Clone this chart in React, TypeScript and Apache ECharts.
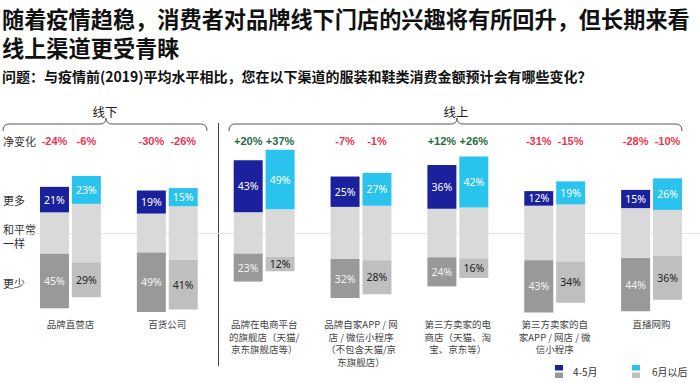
import React, { useEffect, useRef } from "react";
import * as echarts from "echarts";

// ---------- data ----------
const categories = [
  "品牌直营店",
  "百货公司",
  "品牌在电商平台\n的旗舰店（天猫/\n京东旗舰店等）",
  "品牌自家APP / 网\n店 / 微信小程序\n（不包含天猫/京\n东旗舰店）",
  "第三方卖家的电\n商店（天猫、淘\n宝、京东等）",
  "第三方卖家的自\n家APP / 网店 / 微\n信小程序",
  "直播网购",
];
const periods = ["4-5月", "6月以后"];
// 更多 / 和平常一样 / 更少 (%)
const moreA = [21, 19, 43, 25, 36, 12, 15];
const sameA = [34, 32, 34, 43, 40, 45, 41];
const lessA = [45, 49, 23, 32, 24, 43, 44];
const moreB = [23, 15, 49, 27, 42, 19, 26];
const sameB = [48, 44, 39, 45, 42, 47, 38];
const lessB = [29, 41, 12, 28, 16, 34, 36];
// 净变化 (%)
const netA = [-24, -30, 20, -7, 12, -31, -28];
const netB = [-6, -26, 37, -1, 26, -15, -10];
const rowLabels = ["净变化", "更多", "和平常\n一样", "更少"];
const groupLabels = ["线下", "线上"];

const TITLE_LINES = ["随着疫情趋稳，消费者对品牌线下门店的兴趣将有所回升，但长期来看", "线上渠道更受青睐"];
const SUBTITLE = "问题：与疫情前(2019)平均水平相比，您在以下渠道的服装和鞋类消费金额预计会有哪些变化？";

// ---------- style ----------
const NAVY = "#1b219c";
const CYAN = "#2ac3ee";
const MID = "#d9d9d9";
const DARK_GREY = "#999999";
const LIGHT_GREY = "#bfbfbf";
const RED = "#ea3550";
const GREEN = "#1f6a3b";
const BAR_W = 29;
const Y_MAX = 70;
const CJK = '"Noto Sans CJK SC", "Noto Sans", sans-serif';
const NUM = '"Noto Sans", "Noto Sans CJK SC", sans-serif';

const braceOff =
  "M3 131 Q3 124 9 124 L100 124 Q106 124 106 118 Q106 124 112 124 L201 124 Q207 124 207 131";
const braceOn =
  "M229 131 Q229 124 235 124 L451 124 Q457 124 457 118 Q457 124 463 124 L676 124 Q682 124 682 131";
echarts.graphic.registerShape("braceOff", echarts.graphic.extendPath(braceOff, {}) as any);
echarts.graphic.registerShape("braceOn", echarts.graphic.extendPath(braceOn, {}) as any);

const fmtNet = (v: number) => (v > 0 ? "+" + v + "%" : v + "%");

function barSeries(
  name: string,
  stack: string,
  data: number[],
  color: string,
  labelValues?: number[],
  labelColor?: string
) {
  return {
    type: "bar",
    name,
    stack,
    data,
    barWidth: BAR_W,
    barGap: "10%",
    itemStyle: { color },
    label: labelValues
      ? {
          show: true,
          position: "inside",
          color: labelColor,
          fontSize: 10.5,
          fontFamily: NUM,
          formatter: (p: any) => labelValues[p.dataIndex] + "%",
        }
      : { show: false },
  };
}

export default function App() {
  const ref = useRef<HTMLDivElement>(null);
  useEffect(() => {
    if (!ref.current) return;
    const chart = echarts.init(ref.current, undefined, { renderer: "svg" });
    const half = (BAR_W * 1.1) / 2;
    const titleStyle = { fontSize: 22.2, lineHeight: 26, fontWeight: "bold", color: "#111", fontFamily: CJK };
    const option: any = {
      animation: false,
      title: [
        { text: TITLE_LINES[0], left: 2, top: 5, padding: 0, textStyle: titleStyle },
        { text: TITLE_LINES[1], left: 2, top: 34, padding: 0, textStyle: titleStyle },
        {
          text: SUBTITLE,
          left: 2,
          top: 67,
          padding: 0,
          textStyle: { fontSize: 14, lineHeight: 17, fontWeight: "bold", color: "#111", fontFamily: CJK },
        },
      ],
      grid: { left: 22, width: 679, top: 148, height: 170 },
      xAxis: [
        {
          type: "category",
          data: categories,
          axisLine: { show: true, onZero: true, lineStyle: { color: "#e6e6e6", width: 1 } },
          axisTick: { show: false },
          axisLabel: { show: false },
        },
        {
          type: "category",
          data: categories,
          position: "bottom",
          axisLine: { show: false, onZero: false },
          axisTick: { show: false },
          axisLabel: {
            interval: 0,
            margin: 0,
            fontSize: 9.5,
            lineHeight: 12.5,
            color: "#444",
            fontFamily: CJK,
            align: "center",
          },
        },
      ],
      yAxis: {
        type: "value",
        min: -Y_MAX,
        max: Y_MAX,
        show: false,
        splitLine: { show: false },
      },
      series: [
        barSeries("sameUpA", "A", sameA.map((v) => v / 2), MID),
        barSeries(periods[0], "A", moreA, NAVY, moreA, "#fff"),
        barSeries("sameDownA", "A", sameA.map((v) => -v / 2), MID),
        barSeries("lessA", "A", lessA.map((v) => -v), DARK_GREY, lessA, "#f4f4f4"),
        barSeries("sameUpB", "B", sameB.map((v) => v / 2), MID),
        barSeries(periods[1], "B", moreB, CYAN, moreB, "#fff"),
        barSeries("sameDownB", "B", sameB.map((v) => -v / 2), MID),
        barSeries("lessB", "B", lessB.map((v) => -v), LIGHT_GREY, lessB, "#222"),
        {
          type: "custom",
          name: "net",
          clip: false,
          data: categories.map((_, i) => [i, netA[i], netB[i]]),
          renderItem: (_params: any, api: any) => {
            const idx = api.value(0);
            const top = api.coord([idx, Y_MAX]);
            const a = api.value(1);
            const b = api.value(2);
            const mk = (x: number, v: number) => ({
              type: "text",
              x,
              y: top[1] - 7,
              style: {
                text: fmtNet(v),
                fill: v > 0 ? GREEN : RED,
                fontSize: 11,
                fontWeight: "bold",
                fontFamily: '"Liberation Sans", Arial, sans-serif',
                align: "center",
                verticalAlign: "middle",
              },
            });
            return { type: "group", children: [mk(top[0] - half, a), mk(top[0] + half, b)] };
          },
        },
      ],
      graphic: [
        { type: "braceOff", x: 0, y: 0, style: { stroke: "#555", fill: "none", lineWidth: 1 } },
        { type: "braceOn", x: 0, y: 0, style: { stroke: "#555", fill: "none", lineWidth: 1 } },
        {
          type: "text",
          x: 105,
          y: 111,
          style: { text: groupLabels[0], fontSize: 12.5, fill: "#222", fontFamily: CJK, align: "center", verticalAlign: "middle" },
        },
        {
          type: "text",
          x: 456,
          y: 111,
          style: { text: groupLabels[1], fontSize: 12.5, fill: "#222", fontFamily: CJK, align: "center", verticalAlign: "middle" },
        },
        { type: "line", shape: { x1: 218.5, y1: 123, x2: 218.5, y2: 366 }, style: { stroke: "#444", lineWidth: 1 } },
        {
          type: "text",
          x: 3,
          y: 141,
          style: { text: rowLabels[0], fontSize: 11, fill: "#333", fontFamily: CJK, verticalAlign: "middle" },
        },
        {
          type: "text",
          x: 3,
          y: 200,
          style: { text: rowLabels[1], fontSize: 11, fill: "#333", fontFamily: CJK, verticalAlign: "middle" },
        },
        {
          type: "text",
          x: 3,
          y: 236,
          style: { text: rowLabels[2], fontSize: 11, lineHeight: 14.5, fill: "#333", fontFamily: CJK, verticalAlign: "middle" },
        },
        {
          type: "text",
          x: 3,
          y: 283,
          style: { text: rowLabels[3], fontSize: 11, fill: "#333", fontFamily: CJK, verticalAlign: "middle" },
        },
        // legend
        { type: "rect", shape: { x: 555, y: 365, width: 8, height: 5.5 }, style: { fill: NAVY } },
        { type: "rect", shape: { x: 555, y: 372.5, width: 8, height: 5.5 }, style: { fill: DARK_GREY } },
        {
          type: "text",
          x: 573,
          y: 371,
          style: { text: periods[0], fontSize: 10, fill: "#333", fontFamily: CJK, verticalAlign: "middle" },
        },
        { type: "rect", shape: { x: 632, y: 365, width: 8, height: 5.5 }, style: { fill: CYAN } },
        { type: "rect", shape: { x: 632, y: 372.5, width: 8, height: 5.5 }, style: { fill: LIGHT_GREY } },
        {
          type: "text",
          x: 652,
          y: 371,
          style: { text: periods[1], fontSize: 10, fill: "#333", fontFamily: CJK, verticalAlign: "middle" },
        },
      ],
    };
    chart.setOption(option);
    return () => chart.dispose();
  }, []);
  return <div ref={ref} style={{ width: 700, height: 383, position: "fixed", left: 0, top: 0, background: "#fff" }} />;
}
